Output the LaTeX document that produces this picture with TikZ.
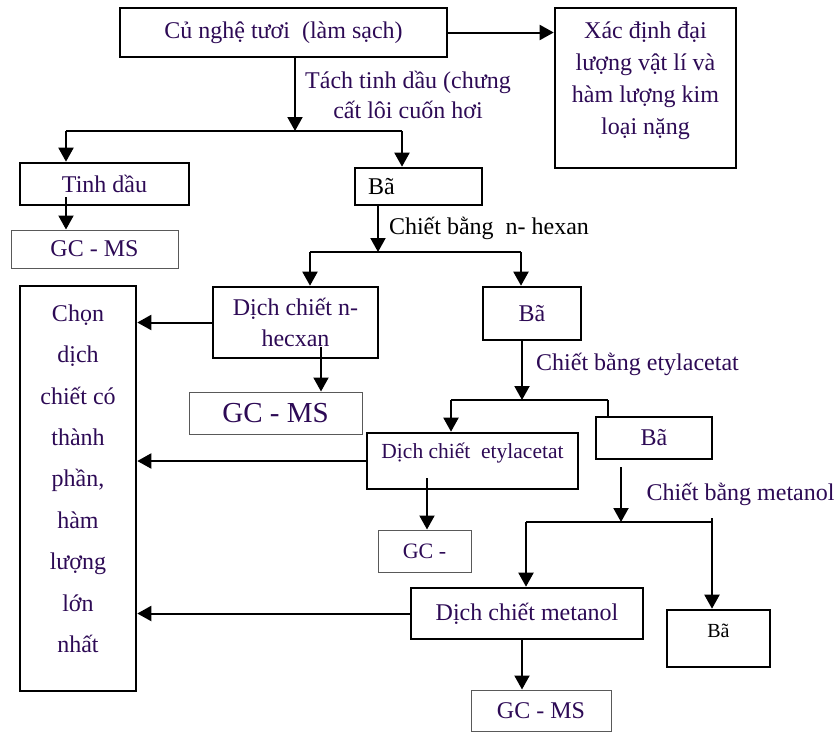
\documentclass[tikz,border=0pt]{standalone}
\usepackage{fontspec}
\setmainfont{Liberation Serif}
\usetikzlibrary{arrows.meta}

\begin{document}
\begin{tikzpicture}[x=1pt,y=-1pt,
    thickbox/.style={draw=black,line width=2.6pt,inner sep=0pt,text=textpurple,align=center,font=\fontsize{24}{31}\selectfont},
    thinbox/.style={draw=gray!70!black,line width=1pt,inner sep=0pt,text=textpurple,align=center,font=\fontsize{24}{31}\selectfont},
    note/.style={inner sep=0pt,align=center,text=textpurple,font=\fontsize{24}{30}\selectfont},
    flow/.style={line width=2pt,-{Triangle[length=14pt,width=15pt]}},
    link/.style={line width=2pt}]
    \definecolor{textpurple}{RGB}{45,10,85}
    \useasboundingbox (0,0) rectangle (836,732);

    % Nguyen lieu
    \node[thickbox,minimum width=327pt,minimum height=49pt] (cu) at (283.5,32.5) {Củ nghệ tươi~ (làm sạch)};
    \node[thickbox,minimum width=181pt,minimum height=160pt,font=\fontsize{24}{32}\selectfont,text depth=19pt] (xd) at (645.5,88) {Xác định đại\\lượng vật lí và\\hàm lượng kim\\loại nặng};
    \node[note] (tach) at (408,95) {Tách tinh dầu (chưng\\cất lôi cuốn hơi};

    % Tinh dau
    \node[thickbox,minimum width=169pt,minimum height=42pt] (tinh) at (104.5,184) {Tinh dầu};
    \node[thinbox,minimum width=167pt,minimum height=38pt] (gc1) at (94.5,249) {GC - MS};

    % Ba sau chung cat
    \node[thickbox,minimum width=127pt,minimum height=37pt,text width=101pt,align=left,text=black] (ba1) at (418.5,186.5) {Bã};
    \node[note,text=black] (hexnote) at (489,228) {Chiết bằng~ n- hexan};

    % Cot ket qua
    \node[thickbox,minimum width=116pt,minimum height=405pt,font=\fontsize{24}{41.4}\selectfont,text depth=20pt] (chon) at (78,488.5) {Chọn\\dịch\\chiết có\\thành\\phần,\\hàm\\lượng\\lớn\\nhất};

    % Chiet n-hexan
    \node[thickbox,minimum width=165pt,minimum height=71pt] (nhex) at (295.5,322.5) {Dịch chiết n-\\hecxan};
    \node[thickbox,minimum width=98pt,minimum height=53pt] (ba2) at (532,313.5) {Bã};
    \node[thinbox,minimum width=173pt,minimum height=42pt,font=\fontsize{29}{31}\selectfont] (gc2) at (275.5,413) {GC - MS};
    \node[note] (eacnote) at (637.5,364) {Chiết bằng etylacetat};

    % Chiet etylacetat
    \node[thickbox,minimum width=211pt,minimum height=56pt,font=\fontsize{21.5}{31}\selectfont,text depth=21pt] (eac) at (472.5,461) {Dịch chiết~ etylacetat};
    \node[thickbox,minimum width=116pt,minimum height=42pt] (ba3) at (654,438) {Bã};
    \node[thinbox,minimum width=93pt,minimum height=42pt,font=\fontsize{22}{31}\selectfont] (gc3) at (424.5,551) {GC -};
    \node[note] (metnote) at (740.5,494) {Chiết bằng metanol};

    % Chiet metanol
    \node[thickbox,minimum width=232pt,minimum height=51pt] (met) at (527,613.5) {Dịch chiết metanol};
    \node[thickbox,minimum width=103pt,minimum height=57pt,text=black,font=\fontsize{20}{31}\selectfont,text depth=16pt] (ba4) at (718.5,638.5) {Bã};
    \node[thinbox,minimum width=140pt,minimum height=41pt] (gc4) at (541,710.5) {GC - MS};

    % diem re nhanh
    \coordinate (s1) at (295,131);
    \coordinate (s1l) at (66,131);
    \coordinate (s1r) at (402,131);
    \coordinate (s2) at (378,252);
    \coordinate (s2l) at (310,252);
    \coordinate (s2r) at (521,252);
    \coordinate (s3) at (522,400);
    \coordinate (s3l) at (451,400);
    \coordinate (s3r) at (608,400);
    \coordinate (s4) at (621,522);
    \coordinate (s4l) at (526,522);
    \coordinate (s4r) at (712,522);
    \coordinate (d0) at (66,197);
    \coordinate (d1) at (321,347);
    \coordinate (d2) at (427,478);
    \coordinate (d3) at (621,467);

    % Mui ten
    \draw[flow] (cu.east) -- (cu.east -| xd.west);
    \draw[flow] (cu.south -| s1) -- (s1);
    \draw[link] (s1l) -- (s1r);
    \draw[flow] (s1l) -- (s1l |- tinh.north);
    \draw[flow] (s1r) -- (s1r |- ba1.north);
    \draw[flow] (d0) -- (d0 |- gc1.north);

    \draw[flow] (ba1.south -| s2) -- (s2);
    \draw[link] (s2l) -- (s2r);
    \draw[flow] (s2l) -- (s2l |- nhex.north);
    \draw[flow] (s2r) -- (s2r |- ba2.north);
    \draw[flow] (d1) -- (d1 |- gc2.north);
    \draw[flow] (nhex.west) -- (nhex.west -| chon.east);

    \draw[flow] (ba2.south -| s3) -- (s3);
    \draw[link] (s3l) -- (s3r);
    \draw[flow] (s3l) -- (s3l |- eac.north);
    \draw[link] (s3r) -- (s3r |- ba3.north);
    \draw[flow] (d2) -- (d2 |- gc3.north);
    \draw[flow] (eac.west) -- (eac.west -| chon.east);

    \draw[flow] (d3) -- (s4);
    \draw[link] (s4l) -- (s4r);
    \draw[flow] (s4l) -- (s4l |- met.north);
    \draw[flow] ([yshift=4pt]s4r) -- (s4r |- ba4.north);
    \draw[flow] (met.south -| s3) -- (gc4.north -| s3);
    \draw[flow] (met.west) -- (met.west -| chon.east);
\end{tikzpicture}
\end{document}
